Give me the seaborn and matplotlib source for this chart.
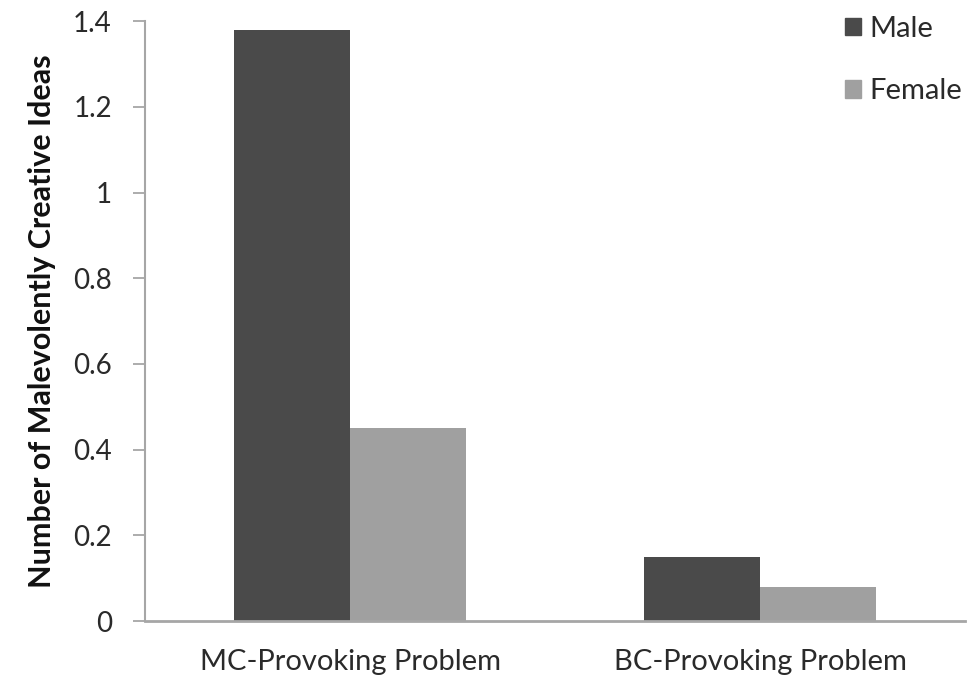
import pandas as pd
import matplotlib
matplotlib.use("Agg")
import matplotlib.pyplot as plt
import seaborn as sns

problems = ["MC-Provoking Problem", "BC-Provoking Problem"]
genders = ["Male", "Female"]
male_vals = [1.38, 0.15]
female_vals = [0.45, 0.08]

df = pd.DataFrame({
    "problem": problems * 2,
    "gender": ["Male"] * 2 + ["Female"] * 2,
    "ideas": male_vals + female_vals,
})

sns.set_theme(style="white")
plt.rcParams["font.family"] = ["Lato", "DejaVu Sans"]

fig = plt.figure(figsize=(9.68, 6.81), dpi=100)
ax = fig.add_axes([0.15, 0.088, 0.847, 0.881])

palette = {"Male": "#4a4a4a", "Female": "#a0a0a0"}
sns.barplot(data=df, x="problem", y="ideas", hue="gender", order=problems,
            hue_order=genders, palette=palette, width=0.566, gap=0,
            saturation=1, linewidth=0, ax=ax)

ax.set_xlim(-0.5, 1.5)
ax.set_ylim(0, 1.4)
ax.set_yticks([0, 0.2, 0.4, 0.6, 0.8, 1.0, 1.2, 1.4])
ax.set_yticklabels(["0", "0.2", "0.4", "0.6", "0.8", "1", "1.2", "1.4"])
ax.set_xlabel("")
ax.set_ylabel("Number of Malevolently Creative Ideas", fontsize=22,
              fontweight="bold", color="#111111", labelpad=12)

axis_grey = "#a6a6a6"
for side in ["top", "right"]:
    ax.spines[side].set_visible(False)
ax.spines["left"].set_color(axis_grey)
ax.spines["bottom"].set_color(axis_grey)
ax.spines["left"].set_linewidth(1.5)
ax.spines["bottom"].set_linewidth(2)
ax.tick_params(axis="y", length=9, width=1.3, color=axis_grey, direction="out",
               labelsize=20, labelcolor="#2a2a2a", pad=15, left=True)
ax.tick_params(axis="x", length=0, labelsize=21, labelcolor="#2a2a2a", pad=20)

ax.get_legend().remove()
handles = [plt.Rectangle((0, 0), 1, 1, color=palette[g]) for g in genders]
fig.legend(handles, genders, loc="upper left",
           bbox_to_anchor=(845 / 968, 1 - 16 / 681), frameon=False,
           fontsize=21, labelspacing=1.25, handlelength=0.55, handleheight=0.55,
           handletextpad=0.3, borderpad=0, borderaxespad=0,
           labelcolor="#2a2a2a")

fig.savefig("out.png", dpi=100)
